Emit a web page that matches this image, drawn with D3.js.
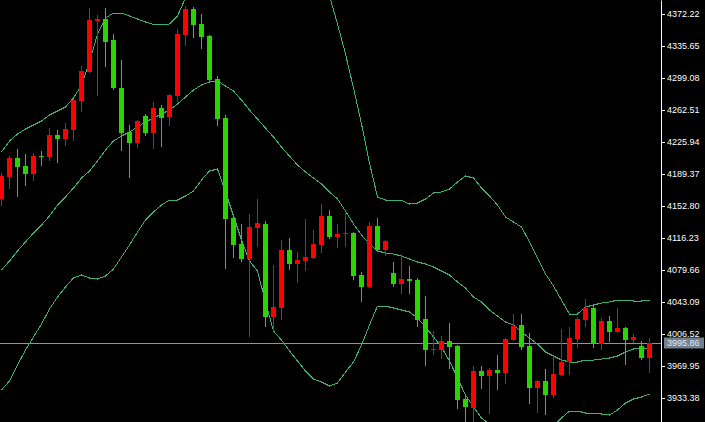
<!DOCTYPE html>
<html>
<head>
<meta charset="utf-8">
<script src="https://cdn.jsdelivr.net/npm/d3@7"></script>
<style>
  body { margin: 0; background: #000; }
  #chart { width: 705px; height: 422px; }
</style>
</head>
<body>
<div id="chart"></div>
<script>
// candles, oldest first (red = close above open, green = close below open)
var open = [4160.80,4185.94,4207.66,4198.51,4189.37,4210.51,4208.80,4233.94,4229.37,4239.65,
  4272.80,4305.94,4364.22,4366.51,4342.51,4287.65,4237.37,4224.80,4255.65,4236.22,
  4264.80,4254.51,4278.51,4348.22,4377.93,4360.79,4347.08,4297.94,4253.37,4139.09,
  4109.37,4092.23,4127.66,4132.23,4025.95,4036.23,4102.52,4086.52,4089.94,4093.37,
  4108.23,4141.37,4117.37,4120.80,4121.94,4073.95,4060.23,4129.95,4102.52,4076.23,
  4063.66,4069.38,4068.23,4023.66,3988.24,3988.24,3998.52,3992.81,3932.24,3921.95,
  3964.24,3958.52,3965.38,3961.95,3999.66,4016.81,3992.81,3944.81,3952.81,3936.81,
  3959.67,3974.52,4000.81,4022.52,4036.23,3995.09,4021.37,4008.81,4013.38,3999.66,
  3992.81,3979.09];
var high = [4190.51,4209.94,4217.94,4212.23,4213.37,4215.66,4241.94,4239.65,4247.65,4275.08,
  4312.79,4379.08,4371.08,4379.08,4349.36,4319.65,4245.37,4251.08,4257.94,4271.65,
  4268.22,4280.80,4355.08,4381.36,4380.22,4372.22,4348.22,4301.37,4256.80,4143.66,
  4132.23,4143.66,4160.80,4135.66,4085.38,4113.94,4116.23,4100.23,4137.94,4125.37,
  4155.09,4148.23,4132.23,4144.80,4123.09,4077.37,4134.51,4139.09,4113.94,4088.80,
  4097.94,4084.23,4070.52,4049.95,4009.95,4004.24,4019.09,3993.95,3935.67,3969.95,
  3969.95,3967.66,3982.52,4001.95,4029.38,4029.38,4007.66,3953.95,3966.52,3981.38,
  4012.23,4014.52,4025.95,4046.52,4039.66,4024.80,4027.09,4036.23,4014.52,4006.52,
  3998.52,4001.95];
var low = [4152.80,4172.23,4163.09,4175.66,4181.37,4198.51,4204.23,4201.94,4221.37,4227.08,
  4260.22,4304.79,4278.51,4311.65,4285.37,4215.66,4184.80,4219.08,4232.80,4217.94,
  4220.22,4244.22,4271.65,4335.65,4344.79,4332.22,4293.37,4244.22,4080.80,4093.37,
  4088.80,4003.09,4105.95,4014.52,4009.95,4022.52,4079.66,4064.80,4078.52,4092.23,
  4099.09,4115.09,4104.80,4105.95,4068.23,4043.09,4059.09,4100.23,4095.66,4060.23,
  4052.23,4052.23,4014.52,3969.95,3982.52,3977.95,3966.52,3920.81,3902.52,3903.67,
  3943.67,3915.10,3942.52,3949.38,3998.52,3988.24,3926.52,3916.24,3913.95,3933.38,
  3958.52,3959.67,3990.52,4014.52,3990.52,3988.24,3997.38,4007.66,3971.09,3996.23,
  3976.81,3961.95];
var close = [4187.09,4207.66,4197.37,4189.37,4209.94,4209.94,4233.94,4229.37,4240.80,4273.94,
  4307.08,4365.36,4366.51,4340.22,4287.65,4236.22,4224.80,4249.94,4236.22,4264.80,
  4253.37,4279.65,4349.36,4377.93,4359.65,4345.94,4296.80,4252.22,4137.94,4108.23,
  4092.23,4128.80,4133.37,4025.95,4037.38,4102.52,4086.52,4091.09,4094.52,4109.37,
  4141.37,4117.37,4120.80,4121.94,4072.80,4060.23,4129.95,4102.52,4112.80,4063.66,
  4069.38,4067.09,4022.52,3988.24,3989.38,3998.52,3991.67,3931.10,3923.10,3964.24,
  3958.52,3965.38,3961.95,4000.81,4015.66,3991.67,3944.81,3952.81,3936.81,3960.81,
  3974.52,4001.95,4023.66,4036.23,3995.09,4021.37,4008.81,4013.38,3999.66,4003.09,
  3979.09,3995.86];

// bollinger bands, one value per candle
var bbUpper = [4214.51,4227.08,4235.08,4240.79,4245.36,4249.93,4256.79,4261.36,4265.93,4276.22,
  4291.08,4317.36,4349.36,4367.65,4373.36,4373.36,4369.93,4366.51,4363.08,4360.22,
  4359.65,4360.79,4369.93,4390.51,4401.93,4403.08,4397.36,4397.36,4411.08,4422.51,
  4433.93,4436.22,4428.22,4436.22,4446.51,4438.51,4435.08,4432.79,4423.65,4416.79,
  4406.51,4392.79,4360.79,4326.51,4287.65,4246.51,4201.93,4163.08,4159.65,4159.65,
  4159.08,4155.08,4156.22,4160.79,4167.65,4168.79,4172.22,4180.22,4187.08,4184.79,
  4173.36,4164.22,4153.93,4140.22,4134.51,4128.79,4111.65,4093.36,4075.08,4061.36,
  4045.36,4029.36,4029.36,4037.36,4039.65,4041.93,4043.08,4045.36,4045.36,4044.22,
  4044.22,4045.36];
var bbMiddle = [4079.65,4089.93,4101.36,4111.65,4121.93,4131.08,4141.36,4153.93,4163.08,4173.36,
  4184.79,4192.79,4204.22,4216.79,4227.08,4232.79,4237.36,4243.08,4248.79,4253.36,
  4257.93,4262.51,4269.36,4277.36,4285.36,4291.08,4294.51,4295.65,4289.93,4284.22,
  4273.93,4262.51,4252.22,4241.93,4231.65,4220.22,4209.93,4199.65,4191.65,4184.79,
  4177.93,4168.79,4160.79,4147.08,4132.22,4119.65,4109.36,4101.36,4099.08,4097.93,
  4095.65,4092.22,4088.79,4086.51,4083.08,4078.51,4073.93,4065.93,4059.08,4048.79,
  4043.08,4033.93,4027.08,4020.22,4016.79,4008.79,4001.93,3995.08,3985.93,3981.36,
  3976.79,3974.51,3974.51,3976.79,3976.79,3977.93,3979.08,3981.36,3985.93,3989.36,
  3990.51,3990.51];
var bbLower = [3942.51,3952.79,3971.08,3988.22,4003.08,4017.93,4035.08,4048.79,4060.22,4070.51,
  4073.93,4070.51,4069.36,4072.79,4080.79,4094.51,4108.22,4123.08,4136.79,4145.93,
  4153.93,4159.65,4159.65,4164.22,4169.93,4182.51,4192.79,4195.08,4168.79,4141.36,
  4113.93,4089.93,4078.51,4043.08,4009.93,3999.65,3987.08,3975.65,3964.22,3955.08,
  3951.65,3947.08,3950.51,3963.08,3974.51,3993.93,4016.79,4038.51,4038.51,4036.22,
  4033.93,4031.65,4024.79,4014.51,4003.08,3991.65,3975.65,3956.22,3936.79,3923.08,
  3910.51,3903.65,3900.22,3900.22,3899.08,3888.79,3892.22,3896.79,3896.79,3901.36,
  3910.51,3918.51,3918.51,3916.22,3916.22,3915.08,3913.93,3919.65,3927.65,3932.22,
  3934.51,3937.93];

var priceTicks = [4372.22,4335.65,4299.08,4262.51,4225.94,4189.37,4152.80,4116.23,4079.66,4043.09,4006.52,3969.95,3933.38];
var lastPrice = 3995.86;

var width = 705, height = 422, axisX = 661;
var upColor = "#ff0000", downColor = "#2ad400", bandColor = "#3cb371";

var svg = d3.select("#chart").append("svg")
  .attr("width", width)
  .attr("height", height)
  .style("background", "#000");

var x = d3.scaleLinear().domain([0, open.length - 1]).range([1.5, 649.5]);
var y = d3.scaleLinear().domain([3905.95, 4388.22]).range([height, 0]);

svg.append("clipPath").attr("id", "plot")
  .append("rect").attr("x", 0).attr("y", 0).attr("width", axisX).attr("height", height);

var plot = svg.append("g").attr("clip-path", "url(#plot)");

// current price line
plot.append("line")
  .attr("x1", 0).attr("x2", axisX)
  .attr("y1", Math.round(y(lastPrice)) + 0.5).attr("y2", Math.round(y(lastPrice)) + 0.5)
  .attr("stroke", "#8c94a0").attr("stroke-width", 1);

// bands
var bandLine = function(vals) {
  return d3.line()
    .x(function(d, i) { return x(i); })
    .y(function(d) { return y(d); })(vals);
};
[bbUpper, bbMiddle, bbLower].forEach(function(b) {
  plot.append("path")
    .attr("d", bandLine(b))
    .attr("fill", "none")
    .attr("stroke", bandColor)
    .attr("stroke-width", 1)
    .attr("shape-rendering", "crispEdges");
});

// candles
var idx = d3.range(open.length);
var candle = plot.selectAll(".candle").data(idx).enter().append("g")
  .attr("class", "candle")
  .attr("shape-rendering", "crispEdges");

candle.append("line")
  .attr("x1", function(i) { return x(i); })
  .attr("x2", function(i) { return x(i); })
  .attr("y1", function(i) { return y(high[i]); })
  .attr("y2", function(i) { return y(low[i]); })
  .attr("stroke", function(i) { return close[i] >= open[i] ? upColor : downColor; })
  .attr("stroke-width", 1);

candle.append("rect")
  .attr("x", function(i) { return x(i) - 2.5; })
  .attr("width", 5)
  .attr("y", function(i) { return Math.min(y(open[i]), y(close[i])); })
  .attr("height", function(i) { return Math.max(1, Math.abs(y(open[i]) - y(close[i]))); })
  .attr("fill", function(i) { return close[i] >= open[i] ? upColor : downColor; });

// price axis
var axis = d3.axisRight(y)
  .tickValues(priceTicks)
  .tickFormat(d3.format(".2f"))
  .tickSize(4)
  .tickSizeOuter(0)
  .tickPadding(2);

var ax = svg.append("g")
  .attr("transform", "translate(" + axisX + ",0)")
  .call(axis);
ax.select(".domain").attr("stroke", "#fff");
ax.selectAll(".tick line").attr("stroke", "#fff").attr("shape-rendering", "crispEdges");
ax.selectAll(".tick text")
  .attr("fill", "#fff")
  .style("font-family", "'Liberation Sans', Arial, sans-serif")
  .style("font-size", "9px");

// last price tag
var py = y(lastPrice);
svg.append("rect")
  .attr("x", 664).attr("y", Math.round(py) - 5.5)
  .attr("width", 40).attr("height", 11)
  .attr("fill", "#708090");
svg.append("text")
  .attr("x", 667).attr("y", py)
  .attr("dy", "0.35em")
  .attr("fill", "#e6e9ee")
  .style("font-family", "'Liberation Sans', Arial, sans-serif")
  .style("font-size", "9px")
  .text(d3.format(".2f")(lastPrice));
</script>
</body>
</html>
